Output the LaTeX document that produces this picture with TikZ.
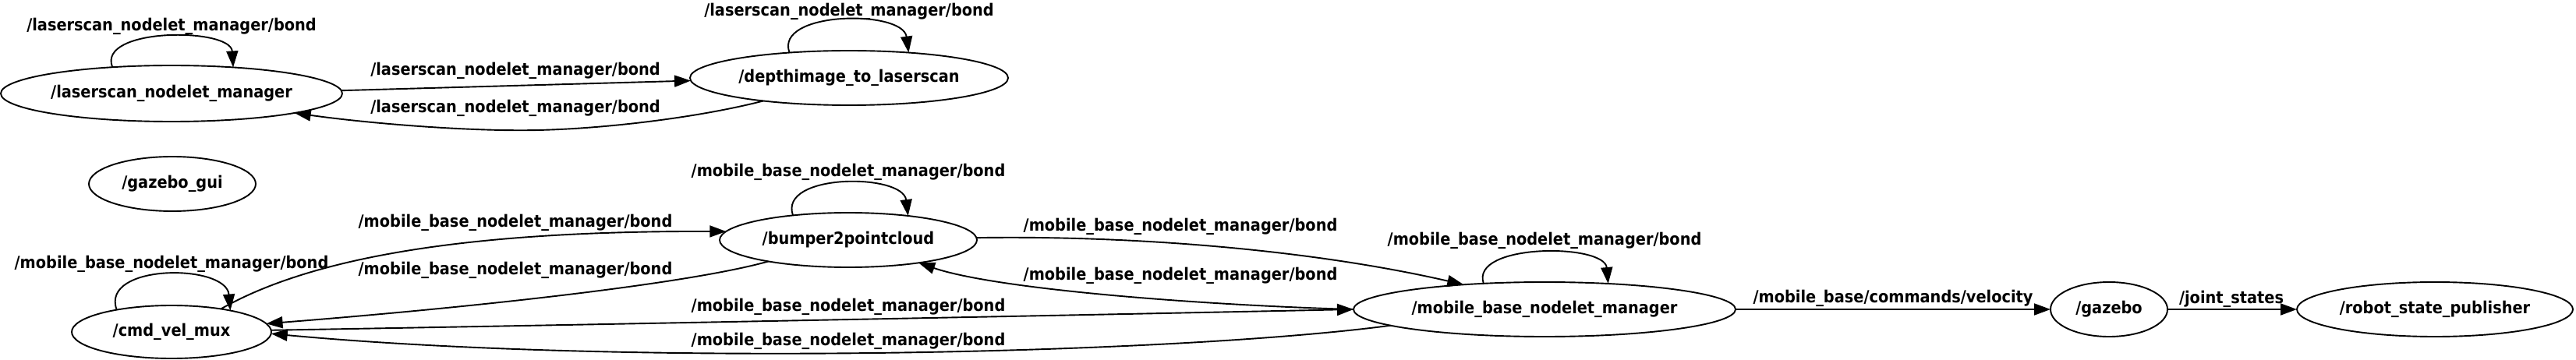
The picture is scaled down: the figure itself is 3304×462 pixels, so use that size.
\documentclass[tikz,border=0pt]{standalone}
\usepackage{fontspec}
\newfontfamily\gvfont{DejaVu Sans Condensed}
\usetikzlibrary{arrows.meta,shapes.geometric}
\newcommand\gvtext{\gvfont\bfseries\fontsize{21.5pt}{24pt}\selectfont}
\newcommand\nt[1]{\makebox[0pt]{#1}}
\tikzset{
  gvnode/.style={ellipse, draw, inner sep=0pt, outer sep=0pt, font=\gvtext},
  gvlabel/.style={inner sep=0pt, font=\gvtext},
  gvedge/.style={-{Triangle[length=21pt,width=15pt]}},
}
\begin{document}
\begin{tikzpicture}[x=1pt,y=-1pt,line width=1.9pt]
\useasboundingbox (0,0) rectangle (3304,462);
\fill[white] (0,0) rectangle (3304,462);
% nodes
\node[gvnode, minimum width=438pt, minimum height=72pt] (lnm) at (220,120) {\nt{/laserscan\_nodelet\_manager}};
\node[gvnode, minimum width=408pt, minimum height=70pt] (dtl) at (1089,100) {\nt{/depthimage\_to\_laserscan}};
\node[gvnode, minimum width=214pt, minimum height=70pt] (gui) at (221,236) {\nt{/gazebo\_gui}};
\node[gvnode, minimum width=330pt, minimum height=70pt] (bpc) at (1088,308) {\nt{/bumper2pointcloud}};
\node[gvnode, minimum width=256pt, minimum height=68pt] (cvm) at (220,426) {\nt{/cmd\_vel\_mux}};
\node[gvnode, minimum width=490pt, minimum height=70pt] (mbm) at (1981,397) {\nt{/mobile\_base\_nodelet\_manager}};
\node[gvnode, minimum width=150pt, minimum height=70pt] (gzb) at (2705,397) {\nt{/gazebo}};
\node[gvnode, minimum width=354pt, minimum height=70pt] (rsp) at (3123,397) {\nt{/robot\_state\_publisher}};
% self loops
\draw[gvedge] (lnm.156.4) .. controls (124,35) and (296,35) .. (lnm.23.0);
\draw[gvedge] (dtl.157.2) .. controls (993,14) and (1158,12) .. (dtl.23.8);
\draw[gvedge] (cvm.158.7) .. controls (128,338) and (290,338) .. (cvm.20.9);
\draw[gvedge] (bpc.156.7) .. controls (998,222) and (1158,222) .. (bpc.22.9);
\draw[gvedge] (mbm.157.3) .. controls (1885,312) and (2058,312) .. (mbm.22.2);
% edges
\draw[gvedge] (lnm.1.3) -- (dtl.181.4);
\draw[gvedge] (dtl.195.8) .. controls (900,150) and (780,165) .. (690,167) .. controls (600,169) and (470,158) .. (lnm.-9.05);
\draw[gvedge] (cvm.25.2) .. controls (400,330) and (600,296) .. (bpc.176.4);
\draw[gvedge] (bpc.195.1) .. controls (880,365) and (600,395) .. (cvm.5.2);
\draw[gvedge] (cvm.1.8) .. controls (800,416) and (1400,404) .. (mbm.180.7);
\draw[gvedge] (mbm.186) .. controls (1500,455) and (800,470) .. (cvm.-1.8);
\draw[gvedge] (bpc.1.4) .. controls (1450,302) and (1680,320) .. (mbm.163.5);
\draw[gvedge] (mbm.180) .. controls (1550,392) and (1280,372) .. (bpc.-18);
\draw[gvedge] (mbm.east) -- (gzb.west);
\draw[gvedge] (gzb.east) -- (rsp.west);
% labels
\node[gvlabel] (l1) at (220,34) {/laserscan\_nodelet\_manager/bond};
\node[gvlabel] (l2) at (1089,15) {/laserscan\_nodelet\_manager/bond};
\node[gvlabel] (l3) at (661,91) {/laserscan\_nodelet\_manager/bond};
\node[gvlabel] (l4) at (661,139) {/laserscan\_nodelet\_manager/bond};
\node[gvlabel] (l5) at (220,339) {/mobile\_base\_nodelet\_manager/bond};
\node[gvlabel] (l6) at (661,286) {/mobile\_base\_nodelet\_manager/bond};
\node[gvlabel] (l7) at (661,347) {/mobile\_base\_nodelet\_manager/bond};
\node[gvlabel] (l8) at (1088,221) {/mobile\_base\_nodelet\_manager/bond};
\node[gvlabel] (l9) at (1088,394) {/mobile\_base\_nodelet\_manager/bond};
\node[gvlabel] (l10) at (1088,438) {/mobile\_base\_nodelet\_manager/bond};
\node[gvlabel] (l11) at (1514,291) {/mobile\_base\_nodelet\_manager/bond};
\node[gvlabel] (l12) at (1514,354) {/mobile\_base\_nodelet\_manager/bond};
\node[gvlabel] (l13) at (1981,309) {/mobile\_base\_nodelet\_manager/bond};
\node[gvlabel] (l14) at (2428,383) {/mobile\_base/commands/velocity};
\node[gvlabel] (l15) at (2862,384) {/joint\_states};
\end{tikzpicture}
\end{document}
